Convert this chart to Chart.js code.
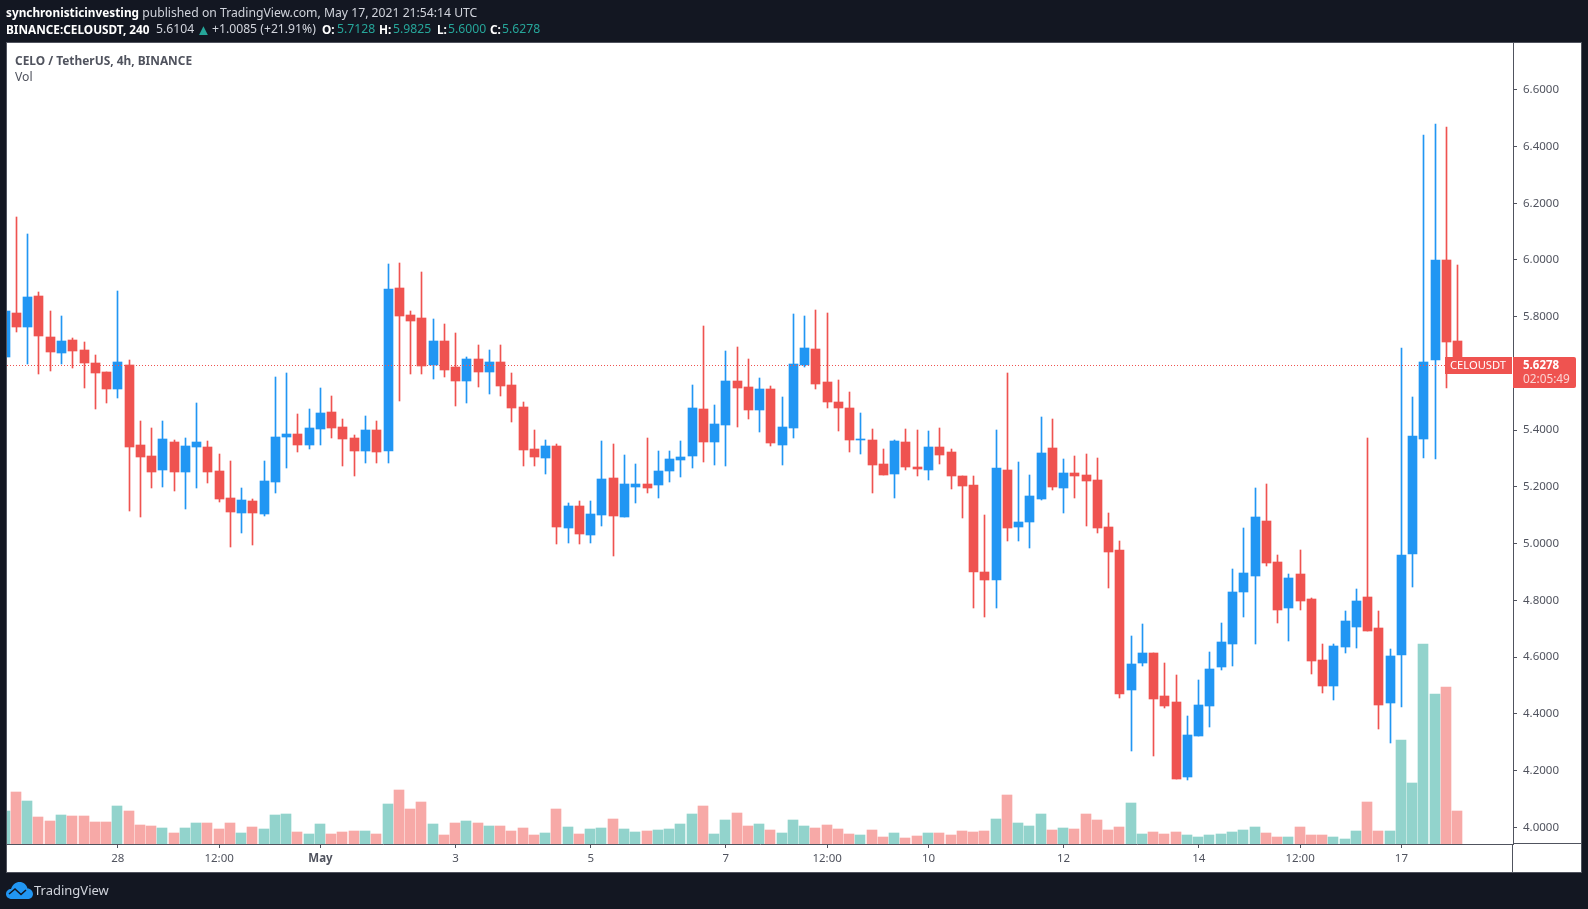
<!DOCTYPE html>
<html><head><meta charset="utf-8">
<script src="https://cdn.jsdelivr.net/npm/chart.js@4"></script>
<style>
html,body{margin:0;padding:0;background:#131722;width:1588px;height:909px;overflow:hidden}
canvas{position:absolute;left:0;top:0}
.t{position:absolute;white-space:nowrap;font-family:"Noto Sans",sans-serif;line-height:16px}
.l2{top:21px;font-size:12.2px;color:#d1d4dc}
.b{font-weight:700;font-size:11.8px;color:#fff}
.g{top:21px;font-size:12.2px;color:#26a69a}
</style></head><body>
<canvas id="c" width="1588" height="909"></canvas>
<div class="t" style="left:6px;top:4px;font-size:12.2px;color:#d1d4dc"><span class="b">synchronisticinvesting</span> published on TradingView.com, May 17, 2021 21:54:14 UTC</div>
<div class="t l2 b" style="left:6px">BINANCE:CELOUSDT, 240</div>
<div class="t l2" style="left:156px">5.6104</div>
<div class="t g" style="left:196px;font-size:15px">▲</div>
<div class="t l2" style="left:212px">+1.0085 (+21.91%)</div>
<div class="t l2 b" style="left:322px">O:</div><div class="t g" style="left:337px">5.7128</div>
<div class="t l2 b" style="left:379px">H:</div><div class="t g" style="left:393px">5.9825</div>
<div class="t l2 b" style="left:437px">L:</div><div class="t g" style="left:448px">5.6000</div>
<div class="t l2 b" style="left:490px">C:</div><div class="t g" style="left:502px">5.6278</div>
<div class="t" style="left:15px;top:52px;font-size:11.9px;font-weight:700;color:#50535e">CELO / TetherUS, 4h, BINANCE</div>
<div class="t" style="left:15px;top:69px;font-size:12.2px;color:#50535e">Vol</div>
<svg style="position:absolute;left:6px;top:882px" width="27" height="17" viewBox="0 0 27 17"><path d="M6 17C2 17 0 14.500 0 12C0 9 2.500 7 5 7C6.500 2.500 10 0 13.500 0C17.500 0 20.500 2.500 21.500 6.500C24.500 6.500 27 9 27 12C27 15 24.500 17 21.500 17Z" fill="#2196f3"/><path d="M3 12L9 7L15 12.500L20 8" fill="none" stroke="#131722" stroke-width="1.600"/></svg>
<div class="t" style="left:34px;top:882px;font-size:13px;color:#d1d4dc">TradingView</div>
<script>
const opens=[5.658,5.813,5.764,5.873,5.729,5.672,5.718,5.683,5.637,5.605,
5.545,5.630,5.348,5.309,5.260,5.358,5.253,5.341,5.341,5.256,
5.161,5.108,5.150,5.105,5.217,5.376,5.387,5.348,5.404,5.464,
5.411,5.372,5.327,5.401,5.327,5.901,5.806,5.796,5.630,5.714,
5.623,5.574,5.651,5.605,5.640,5.559,5.482,5.334,5.302,5.344,
5.055,5.133,5.031,5.101,5.232,5.094,5.200,5.210,5.207,5.256,
5.295,5.309,5.475,5.358,5.418,5.573,5.552,5.471,5.545,5.348,
5.408,5.630,5.686,5.570,5.499,5.478,5.365,5.365,5.281,5.246,
5.358,5.270,5.260,5.341,5.323,5.238,5.207,4.900,4.872,5.260,
5.059,5.076,5.157,5.337,5.196,5.249,5.242,5.224,5.059,4.978,
4.484,4.579,4.615,4.463,4.442,4.177,4.322,4.428,4.565,4.646,
4.830,4.886,5.080,4.935,4.773,4.893,4.805,4.590,4.498,4.636,
4.706,4.812,4.703,4.438,4.607,4.963,5.369,5.648,6.000,5.7128];
const highs=[5.900,6.152,6.092,5.887,5.820,5.803,5.725,5.711,5.665,5.605,
5.891,5.647,5.432,5.408,5.432,5.365,5.372,5.496,5.362,5.316,
5.291,5.196,5.157,5.291,5.587,5.602,5.457,5.475,5.549,5.521,
5.439,5.383,5.450,5.432,5.986,5.989,5.820,5.958,5.792,5.774,
5.743,5.658,5.700,5.683,5.700,5.602,5.499,5.401,5.365,5.351,
5.143,5.150,5.150,5.362,5.351,5.313,5.281,5.372,5.327,5.327,
5.362,5.559,5.767,5.489,5.679,5.693,5.651,5.584,5.556,5.517,
5.810,5.803,5.824,5.813,5.577,5.535,5.461,5.404,5.334,5.365,
5.404,5.401,5.397,5.408,5.334,5.238,5.238,5.101,5.401,5.602,
5.288,5.242,5.446,5.439,5.298,5.309,5.316,5.302,5.108,5.009,
4.674,4.717,4.615,4.579,4.537,4.392,4.519,4.618,4.720,4.911,
5.055,5.196,5.210,4.960,4.893,4.978,4.808,4.646,4.646,4.763,
4.840,5.372,4.763,4.629,5.690,5.517,6.441,6.480,6.469,5.9825];
const lows=[5.620,5.746,5.633,5.598,5.609,5.633,5.619,5.549,5.475,5.496,
5.513,5.115,5.094,5.196,5.200,5.186,5.122,5.196,5.214,5.147,
4.988,5.038,4.995,5.098,5.179,5.267,5.323,5.334,5.348,5.372,
5.274,5.239,5.284,5.284,5.284,5.503,5.598,5.598,5.581,5.588,
5.485,5.496,5.552,5.528,5.521,5.429,5.274,5.274,5.246,5.000,
5.002,5.000,5.002,5.062,4.957,5.094,5.143,5.179,5.161,5.217,
5.235,5.267,5.288,5.277,5.274,5.411,5.439,5.394,5.344,5.277,
5.372,5.623,5.545,5.478,5.397,5.323,5.316,5.179,5.242,5.161,
5.260,5.238,5.224,5.281,5.193,5.090,4.773,4.741,4.773,5.009,
5.009,4.985,5.154,5.189,5.108,5.161,5.062,5.038,4.844,4.456,
4.269,4.569,4.251,4.421,4.170,4.167,4.322,4.354,4.555,4.569,
4.741,4.646,4.921,4.720,4.657,4.766,4.540,4.473,4.449,4.614,
4.632,4.692,4.347,4.297,4.424,4.847,5.302,5.298,5.549,5.6000];
const closes=[5.820,5.764,5.870,5.732,5.676,5.714,5.679,5.637,5.602,5.545,
5.640,5.341,5.305,5.253,5.369,5.253,5.344,5.358,5.253,5.157,
5.112,5.154,5.108,5.221,5.376,5.387,5.348,5.408,5.461,5.408,
5.369,5.327,5.401,5.323,5.898,5.803,5.785,5.626,5.714,5.612,
5.574,5.651,5.605,5.640,5.556,5.478,5.330,5.306,5.344,5.059,
5.133,5.034,5.105,5.228,5.098,5.210,5.210,5.196,5.256,5.299,
5.306,5.478,5.358,5.422,5.573,5.549,5.471,5.545,5.355,5.411,
5.633,5.690,5.563,5.499,5.478,5.365,5.369,5.277,5.242,5.362,
5.270,5.263,5.341,5.313,5.238,5.203,4.900,4.872,5.267,5.055,
5.076,5.168,5.320,5.200,5.249,5.239,5.221,5.055,4.971,4.470,
4.576,4.615,4.452,4.428,4.170,4.325,4.431,4.558,4.653,4.830,
4.897,5.094,4.932,4.766,4.879,4.798,4.586,4.498,4.639,4.727,
4.798,4.692,4.431,4.604,4.960,5.379,5.640,6.000,5.711,5.6278];
const volumes=[33,52,43,27,23,29,28,28,22,22,
38,33,19,18,16,11,16,21,21,15,
21,11,17,15,29,30,12,10,20,10,
12,13,13,10,40,54,35,42,20,9,
21,23,21,18,18,13,16,9,11,35,
17,10,15,16,25,15,12,13,14,15,
20,30,38,10,24,31,18,20,14,11,
24,18,16,19,15,10,9,14,7,11,
6,8,11,11,9,13,12,13,25,49,
21,18,30,14,16,15,30,24,14,17,
41,10,12,10,12,9,7,9,10,12,
14,17,11,7,7,17,9,9,7,5,
13,42,13,13,104,61,200,150,157,33];
const timeTickIndex=[10,19,28,40,52,64,73,82,94,106,115,124];
const timeTickLabels=['28','12:00','May','3','5','7','12:00','10','12','14','12:00','17'];
const priceTicks=[4.0,4.2,4.4,4.6,4.8,5.0,5.2,5.4,5.6,5.8,6.0,6.2,6.4,6.6];
const lastPrice=5.6278;
const symbol='CELOUSDT';
const countdown='02:05:49';

const UP='#2196f3',DOWN='#ef5350',VUP='#92d3cc',VDOWN='#f7a9a7',AXIS='#50535e';
const XMIN=0.16,XMAX=133.91,YMIN=3.9411,YMAX=6.765,VMAX=801;
const FONT='"Noto Sans", sans-serif';
const isUp=i=>closes[i]>=opens[i];
const idx=opens.map((_,i)=>i);

const snap={
  id:'snap',
  afterDatasetsUpdate(chart){
    chart.data.datasets.forEach((ds,d)=>{
      const meta=chart.getDatasetMeta(d);
      meta.data.forEach(el=>{
        if(ds.type==='line'){el.y=Math.floor(el.y)+0.5;return;}
        const w=el.width;
        el.x=(Math.round(w)%2===0)?Math.floor(el.x):Math.floor(el.x)+0.5;
        el.y=Math.round(el.y);el.base=Math.round(el.base);
        if(el.base===el.y)el.base=el.y+1;
      });
    });
  }
};
const frame={
  id:'frame',
  beforeDraw(chart){
    const c=chart.ctx;
    c.save();
    c.fillStyle=AXIS;c.fillRect(6,42,1576,831);
    c.fillStyle='#fff';c.fillRect(7,43,1574,829);
    c.restore();
  },
  afterDraw(chart){
    const c=chart.ctx,a=chart.chartArea,y=chart.scales.y.getPixelForValue(lastPrice);
    c.save();
    c.fillStyle=AXIS;
    c.fillRect(a.right-1,a.bottom,1,872-a.bottom);
    c.fillRect(a.right,a.bottom-1,1581-a.right,1);
    const top=Math.round(y)-9;
    c.fillStyle=DOWN;
    c.fillRect(1445,top,67,17);
    c.beginPath();c.roundRect(1513,top,63,31,[0,2,2,0]);c.fill();
    c.fillStyle='#fff';c.textBaseline='middle';c.textAlign='left';
    c.font='11.2px '+FONT;c.fillText(symbol,1450,top+8.5);
    c.font='bold 11.5px '+FONT;c.fillText(lastPrice.toFixed(4),1523,top+8.5);
    c.font='11.8px '+FONT;c.fillStyle='rgba(255,255,255,0.75)';c.fillText(countdown,1523,top+23);
    c.restore();
  }
};
new Chart(document.getElementById('c'),{
  data:{datasets:[
    {type:'line',order:1,yAxisID:'y',data:[{x:XMIN,y:lastPrice},{x:XMAX,y:lastPrice}],borderColor:DOWN,borderWidth:1,borderDash:[1,2],pointRadius:0,fill:false},
    {type:'bar',order:2,grouped:false,yAxisID:'y',barThickness:9,data:idx.map(i=>({x:i,y:[opens[i],closes[i]]})),backgroundColor:idx.map(i=>isUp(i)?UP:DOWN)},
    {type:'bar',order:3,grouped:false,yAxisID:'y',barThickness:1,data:idx.map(i=>({x:i,y:[lows[i],highs[i]]})),backgroundColor:idx.map(i=>isUp(i)?UP:DOWN)},
    {type:'bar',order:4,grouped:false,yAxisID:'v',barThickness:10,data:idx.map(i=>({x:i,y:volumes[i]})),backgroundColor:idx.map(i=>isUp(i)?VUP:VDOWN)}
  ]},
  options:{
    responsive:false,animation:false,devicePixelRatio:1,
    layout:{autoPadding:false,padding:{left:7,right:7,top:43,bottom:37}},
    plugins:{legend:{display:false},title:{display:false},tooltip:{enabled:false}},
    events:[],
    scales:{
      x:{type:'linear',offset:false,min:XMIN,max:XMAX,
        afterFit:s=>{s.height=28},
        afterBuildTicks:s=>{s.ticks=timeTickIndex.map(v=>({value:v}))},
        border:{color:AXIS,width:1},
        grid:{offset:false,drawOnChartArea:false,drawTicks:true,tickLength:4,color:AXIS},
        ticks:{autoSkip:false,maxRotation:0,padding:4,color:AXIS,
          font:ctx=>({family:FONT,size:11.5,weight:timeTickLabels[ctx.index]==='May'?'bold':'normal'}),
          callback:(v,i)=>timeTickLabels[i]}
      },
      y:{type:'linear',position:'right',min:YMIN,max:YMAX,
        afterFit:s=>{s.width=68},
        afterBuildTicks:s=>{s.ticks=priceTicks.map(v=>({value:v}))},
        border:{color:AXIS,width:1},
        grid:{drawOnChartArea:false,drawTicks:true,tickLength:4,color:AXIS},
        ticks:{padding:6,color:AXIS,font:{family:FONT,size:11.5},callback:v=>v.toFixed(4)}
      },
      v:{type:'linear',display:false,min:0,max:VMAX}
    }
  },
  plugins:[frame,snap]
});
</script>
</body></html>
